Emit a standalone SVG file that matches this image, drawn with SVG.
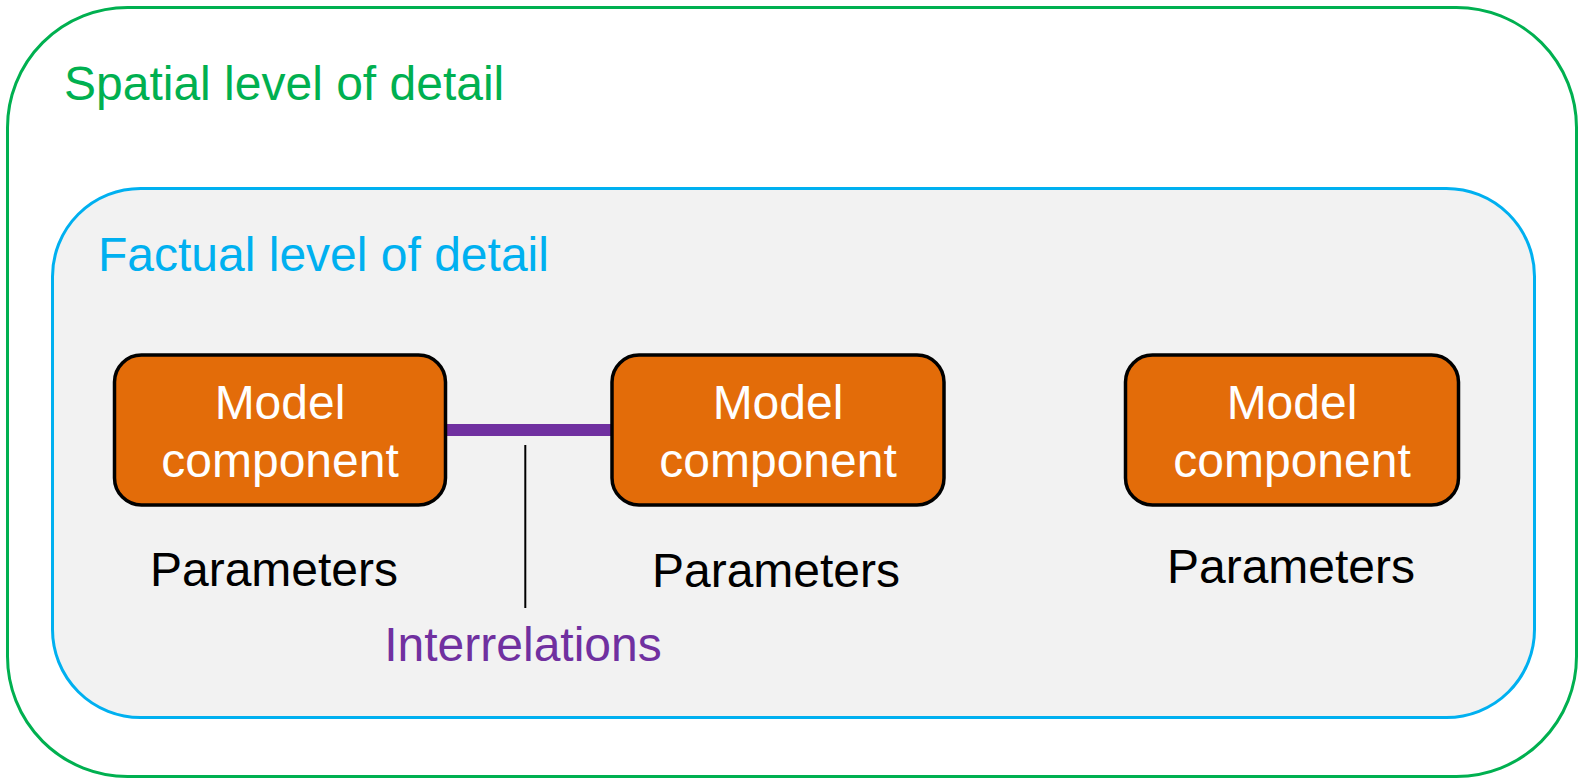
<svg xmlns="http://www.w3.org/2000/svg" width="1579" height="779" viewBox="0 0 1579 779">
<style>
text{font-family:"Liberation Sans",Arial,sans-serif;font-size:48px}
.box{fill:#E36C09;stroke:#000;stroke-width:3.5}
.bt{fill:#fff;text-anchor:middle}
.pt{fill:#000;text-anchor:middle}
</style>
<rect width="1579" height="779" fill="#fff"/>
<g id="spatial">
<rect x="7.5" y="7.5" width="1569" height="769" rx="120" fill="#fff" stroke="#00B050" stroke-width="3"/>
<text x="64" y="99.5" fill="#00B050">Spatial level of detail</text>
</g>
<g id="factual">
<rect x="52.5" y="188.5" width="1482" height="529" rx="88" fill="#F2F2F2" stroke="#00B0F0" stroke-width="3"/>
<text x="98" y="270.5" fill="#00B0F0">Factual level of detail</text>
</g>
<g id="connectors">
<line x1="446" y1="430" x2="612" y2="430" stroke="#7030A0" stroke-width="12"/>
<line x1="525.3" y1="445" x2="525.3" y2="608" stroke="#000" stroke-width="2"/>
</g>
<g id="node1">
<rect class="box" x="114.5" y="355" width="331" height="150" rx="27"/>
<text class="bt" x="280" y="419">Model</text>
<text class="bt" x="280" y="477">component</text>
<text class="pt" x="274" y="586">Parameters</text>
</g>
<g id="node2">
<rect class="box" x="612" y="355" width="332" height="150" rx="27"/>
<text class="bt" x="778" y="419">Model</text>
<text class="bt" x="778" y="477">component</text>
<text class="pt" x="776" y="587">Parameters</text>
</g>
<g id="node3">
<rect class="box" x="1125.5" y="355" width="333" height="150" rx="27"/>
<text class="bt" x="1292" y="419">Model</text>
<text class="bt" x="1292" y="477">component</text>
<text class="pt" x="1291" y="582.5">Parameters</text>
</g>
<g id="interrelations">
<text x="523" y="661" fill="#7030A0" text-anchor="middle">Interrelations</text>
</g>
</svg>
